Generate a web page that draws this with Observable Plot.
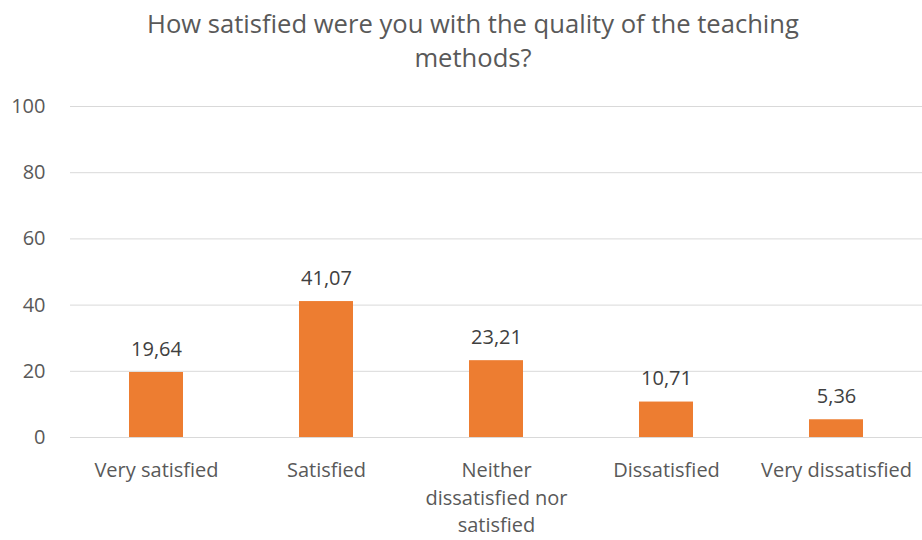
<!DOCTYPE html>
<html>
<head>
<meta charset="utf-8">
<script src="https://cdn.jsdelivr.net/npm/d3@7"></script>
<script src="https://cdn.jsdelivr.net/npm/@observablehq/plot@0.6"></script>
<style>
  html, body { margin: 0; padding: 0; background: #fff; }
  body { width: 922px; height: 540px; overflow: hidden; font-family: "Open Sans", sans-serif; }
  #title { text-align: center; color: #595959; font-size: 25.6px; line-height: 34px; padding-top: 7px; height: 68px; padding-left: 24px; }
</style>
</head>
<body>
<div id="title">How satisfied were you with the quality of the teaching<br>methods?</div>
<div id="chart"></div>
<script>
const categories = ["Very satisfied", "Satisfied", "Neither dissatisfied nor satisfied", "Dissatisfied", "Very dissatisfied"];
const tickLabels = ["Very satisfied", "Satisfied", "Neither\ndissatisfied nor\nsatisfied", "Dissatisfied", "Very dissatisfied"];
const values = [19.64, 41.07, 23.21, 10.71, 5.36];
const yTicks = [0, 20, 40, 60, 80, 100];

const data = categories.map((c, i) => ({category: c, value: values[i]}));
const labelOf = new Map(categories.map((c, i) => [c, tickLabels[i]]));

const chart = Plot.plot({
  width: 922,
  height: 465,
  marginTop: 31,
  marginBottom: 103,
  marginLeft: 70,
  marginRight: 0,
  style: {fontFamily: "Open Sans, sans-serif", fontSize: "20px", color: "#595959", background: "#fff"},
  x: {domain: categories, paddingInner: 0.68, paddingOuter: 0.34, label: null},
  y: {domain: [0, 100], label: null},
  marks: [
    Plot.gridY(yTicks, {stroke: "#d9d9d9", strokeOpacity: 1}),
    Plot.axisY(yTicks, {tickSize: 0, tickPadding: 0, dx: -25, textAnchor: "end", fontSize: 20, fill: "#595959", label: null, marginLeft: 70}),
    Plot.barY(data, {x: "category", y: "value", fill: "#ED7D31"}),
    Plot.text(data, {x: "category", y: "value", text: d => d.value.toFixed(2).replace(".", ","), dy: -23, fontSize: 20, fill: "#404040"}),
    Plot.axisX({tickSize: 0, tickPadding: 20, tickFormat: d => labelOf.get(d), lineHeight: 1.38, fontSize: 20, fill: "#595959", label: null})
  ]
});
document.getElementById("chart").appendChild(chart);
</script>
</body>
</html>
